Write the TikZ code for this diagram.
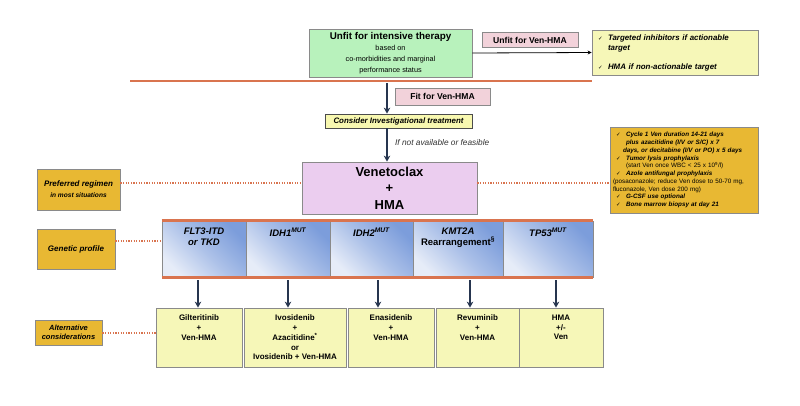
\documentclass[tikz,border=0pt]{standalone}
\usepackage{fontspec}
\setmainfont{Liberation Sans}
\newfontfamily\symf{DejaVu Sans}
\usetikzlibrary{arrows.meta,positioning,calc}
\definecolor{cgreen}{HTML}{B8F2BC}
\definecolor{cpink}{HTML}{F2D2DA}
\definecolor{cyel}{HTML}{F6F7B8}
\definecolor{ccons}{HTML}{F8F8B0}
\definecolor{cven}{HTML}{EBCDEF}
\definecolor{cgold}{HTML}{E8B833}
\definecolor{cblueD}{HTML}{7C9DDB}
\definecolor{cblueL}{HTML}{E6ECF8}
\definecolor{corange}{HTML}{D9744F}
\definecolor{carrow}{HTML}{26354F}
\definecolor{cborder}{HTML}{8A8A8A}
\newcommand{\fs}[2]{\fontsize{#1}{#2}\selectfont}
\newcommand{\ckm}{\makebox[10pt][l]{{\symf\fs{5.5}{7}✓}}}
\begin{document}
\begin{tikzpicture}[x=1pt,y=-1pt,
  box/.style={draw=cborder, line width=0.8pt, inner sep=0pt, align=center},
  goldbox/.style={box, fill=cgold, font=\bfseries\itshape},
  gbox/.style={draw=cborder, line width=0.8pt, top color=cblueD, bottom color=cblueL, middle color=cblueD!55!cblueL, shading angle=-45, minimum height=56pt, inner sep=0pt},
  glabel/.style={anchor=north, align=center, inner sep=0pt, font=\fs{9.5}{11}\bfseries\itshape},
  altbox/.style={box, fill=cyel, minimum height=59pt},
  altlabel/.style={anchor=north, align=center, inner sep=0pt, font=\fs{8}{9.8}\bfseries},
  arr/.style={draw=carrow, line width=1.6pt, -{Stealth[length=6pt,width=6.5pt]}},
  dots/.style={draw=corange, line width=2pt, dash pattern=on 1.2pt off 1.4pt},
  oline/.style={draw=corange, line width=3pt}
]
\useasboundingbox (0,0) rectangle (800,405);
\fill[white] (0,0) rectangle (800,405);

% top section
\node[box, fill=cgreen, minimum width=163pt, minimum height=48pt] (unfit) at (390.5,53)
  {{\fs{9.8}{11}\bfseries Unfit for intensive therapy}\\[-0.5pt]
   {\fs{7.3}{9.5}based on}\\[-1pt]
   {\fs{7.3}{9.5}co-morbidities and marginal}\\[-1pt]
   {\fs{7.3}{9.5}performance status}};
\node[box, fill=cpink, minimum width=96pt, minimum height=15pt, font=\fs{8.6}{10}\bfseries] (unfitven) at (530,40) {Unfit for Ven-HMA};
\node[box, fill=cyel, minimum width=166pt, minimum height=45pt, text width=154pt, align=left, font=\fs{7.9}{10}\bfseries\itshape] (targ) at (675,52.5)
  {\ckm Targeted inhibitors if actionable\\
   \hspace*{10pt}target\\[9pt]
   \ckm HMA if non-actionable target};
\draw[line width=0.8pt, -{Stealth[length=4pt,width=4pt]}] (unfit.east) -- (targ.west);
\coordinate (olA) at (130,81);
\coordinate (olB) at (592,81);
\draw[draw=corange, line width=1.6pt] (olA) -- (olB);

\node[box, fill=cpink, minimum width=95pt, minimum height=17pt, font=\fs{8.6}{10}\bfseries] (fitven) at (442.5,96.5) {Fit for Ven-HMA};
\node[box, draw=black!70, fill=ccons, minimum width=147pt, minimum height=14pt, font=\fs{7.9}{9}\bfseries\itshape] (cons) at (398.5,121) {Consider Investigational treatment};
\draw[arr] ([xshift=-3.5pt,yshift=-6pt]unfit.south) -- ([xshift=-3.5pt]unfit.south |- cons.north);

\node[box, fill=cven, minimum width=175pt, minimum height=52pt, font=\fs{13}{16.5}\bfseries] (ven) at (389.5,188) {Venetoclax\\+\\HMA};
\draw[arr] ([xshift=-11.5pt]cons.south) -- node[pos=0.42, anchor=west, xshift=4pt, font=\fs{8.3}{10}\itshape, text=black!80] {If not available or feasible} ([xshift=-11.5pt]cons.south |- ven.north);

% right detail box
\node[box, fill=cgold, minimum width=148pt, minimum height=86pt, text width=142pt, align=left, font=\fs{6.3}{7.75}] (detail) at (684,170)
  {\bfseries\itshape
   \hspace*{3pt}\ckm Cycle 1 Ven duration 14-21 days\\
   \hspace*{13pt}plus azacitidine (I/V or S/C) x 7\\
   \hspace*{10pt}days, or decitabine (I/V or PO) x 5 days\\
   \hspace*{3pt}\ckm Tumor lysis prophylaxis\\
   \hspace*{13pt}{\mdseries\upshape (start Ven once WBC < 25 x 10\textsuperscript{9}/l)}\\
   \hspace*{3pt}\ckm Azole antifungal prophylaxis\\
   {\mdseries\upshape (posaconazole; reduce Ven dose to 50-70 mg,}\\
   {\mdseries\upshape fluconazole, Ven dose 200 mg)}\\
   \hspace*{3pt}\ckm G-CSF use optional\\
   \hspace*{3pt}\ckm Bone marrow biopsy at day 21};

% left labels
\node[goldbox, minimum width=83pt, minimum height=41pt] (pref) at (78.5,189.5)
  {{\fs{8}{9}Preferred regimen}\\[-1pt]{\fs{6.6}{8}in most situations}};
\node[goldbox, minimum width=78pt, minimum height=40pt, font=\fs{8}{9}\bfseries\itshape] (gp) at (76,249) {Genetic profile};
\node[goldbox, minimum width=67pt, minimum height=25pt, font=\fs{7.5}{8.5}\bfseries\itshape] (alt) at (68.5,332.5) {Alternative\\considerations};

\draw[dots] ([yshift=6.5pt]pref.east) -- ([yshift=6.5pt]pref.east -| ven.west);
\draw[dots] ([yshift=6.5pt]pref.east -| ven.east) -- ([yshift=6.5pt]pref.east -| detail.west);

% genetic strip
\node[gbox, minimum width=84pt] (g1) at (204,249) {};
\node[gbox, minimum width=84pt] (g2) at (288,249) {};
\node[gbox, minimum width=83pt] (g3) at (371.5,249) {};
\node[gbox, minimum width=90pt] (g4) at (458,249) {};
\node[gbox, minimum width=90pt] (g5) at (548,249) {};
\draw[oline] (g1.north west) -- (g5.north east);
\draw[oline] (g1.south west) -- (g5.south east);
\node[glabel] (l1) at ([yshift=-7pt]g1.north) {FLT3-ITD\\or TKD};
\node[glabel] (l2) at ([yshift=-7pt]g2.north) {IDH1\textsuperscript{MUT}};
\node[glabel] (l3) at ([yshift=-7pt]g3.north) {IDH2\textsuperscript{MUT}};
\node[glabel] (l4) at ([yshift=-7pt]g4.north) {KMT2A\\{\upshape Rearrangement\textsuperscript{§}}};
\node[glabel] (l5) at ([yshift=-7pt]g5.north) {TP53\textsuperscript{MUT}};
\draw[dots] ([yshift=8pt]gp.east) -- ([yshift=8pt]gp.east -| g1.west);

% alternative boxes
\node[altbox, minimum width=86pt] (a1) at (199,337.5) {};
\node[altbox, minimum width=102pt] (a2) at (295,337.5) {};
\node[altbox, minimum width=86pt] (a3) at (391,337.5) {};
\node[altbox, minimum width=83pt] (a4) at (477.5,337.5) {};
\node[altbox, minimum width=84pt] (a5) at (561,337.5) {};
\node[altlabel] (t1) at ([yshift=-7pt]a1.north) {Gilteritinib\\+\\Ven-HMA};
\node[altlabel] (t2) at ([yshift=-7pt]a2.north) {Ivosidenib\\+\\Azacitidine\textsuperscript{*}\\or\\Ivosidenib + Ven-HMA};
\node[altlabel] (t3) at ([yshift=-7pt]a3.north) {Enasidenib\\+\\Ven-HMA};
\node[altlabel] (t4) at ([yshift=-7pt]a4.north) {Revuminib\\+\\Ven-HMA};
\node[altlabel] (t5) at ([yshift=-7pt]a5.north) {HMA\\+/-\\Ven};
\draw[dots] (alt.east) -- (alt.east -| a1.west);

\draw[arr] ([xshift=-6pt,yshift=-3pt]g1.south) -- ([xshift=-6pt]g1.south |- a1.north);
\draw[arr] ([yshift=-3pt]g2.south) -- (g2.south |- a2.north);
\draw[arr] ([xshift=6.5pt,yshift=-3pt]g3.south) -- ([xshift=6.5pt]g3.south |- a3.north);
\draw[arr] ([xshift=12pt,yshift=-3pt]g4.south) -- ([xshift=12pt]g4.south |- a4.north);
\draw[arr] ([xshift=8pt,yshift=-3pt]g5.south) -- ([xshift=8pt]g5.south |- a5.north);
\end{tikzpicture}
\end{document}
